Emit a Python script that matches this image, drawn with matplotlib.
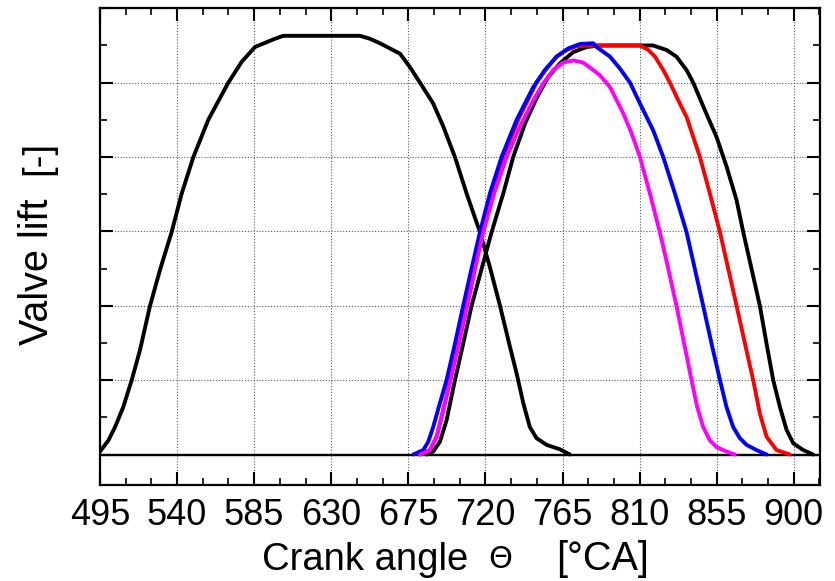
import matplotlib
matplotlib.use("Agg")
import matplotlib.pyplot as plt
from matplotlib.ticker import MultipleLocator

plt.rcParams['font.family'] = ['Liberation Sans', 'DejaVu Sans']

# Exhaust valve (black, left)
exh_theta = [495.0, 499.9, 503.8, 508.6, 513.5, 518.3, 524.2, 530.0, 536.8, 542.7, 549.5, 558.2,
             569.9, 577.7, 585.5, 597.1, 602.0, 646.8, 652.6, 658.4, 670.1, 675.9, 681.8, 689.5,
             695.4, 702.2, 709.0, 716.8, 722.6, 728.5, 734.3, 738.2, 742.1, 745.9, 749.8, 755.7,
             763.5, 769.3]
exh_lift = [0.04, 0.19, 0.37, 0.64, 1.0, 1.40, 2.0, 2.48, 2.99, 3.51, 4.0, 4.50,
            5.0, 5.28, 5.48, 5.59, 5.63, 5.63, 5.59, 5.53, 5.39, 5.21, 5.0, 4.72,
            4.41, 4.0, 3.51, 2.99, 2.52, 2.0, 1.45, 1.09, 0.69, 0.37, 0.22, 0.13,
            0.07, 0.0]

# Intake valve, baseline (black)
int_k_theta = [685.6, 689.5, 693.4, 697.3, 702.2, 707.0, 711.9, 717.8, 723.6, 730.4, 736.2, 743.1,
               749.8, 756.7, 763.5, 771.2, 779.1, 786.8, 817.9, 825.7, 831.5, 837.4, 841.3, 848.1,
               854.9, 860.8, 866.6, 870.5, 875.3, 880.2, 884.1, 888.0, 891.9, 895.8, 899.7, 905.5,
               911.3]
int_k_lift = [0.0, 0.04, 0.17, 0.46, 1.0, 1.49, 2.0, 2.50, 2.99, 3.51, 4.0, 4.45,
              4.79, 5.08, 5.26, 5.41, 5.48, 5.50, 5.50, 5.44, 5.35, 5.17, 5.0, 4.63,
              4.27, 3.87, 3.42, 2.99, 2.50, 2.0, 1.49, 1.0, 0.64, 0.33, 0.15, 0.06,
              0.0]

# Intake variant (red)
red_theta = [681.8, 687.6, 691.5, 695.4, 699.3, 704.1, 709.0, 713.3, 717.8, 723.6, 730.4, 739.1,
             749.8, 755.7, 761.5, 767.4, 773.2, 781.0, 810.2, 815.1, 819.0, 823.8, 827.7, 832.6,
             837.4, 841.3, 845.2, 851.0, 856.9, 861.7, 866.6, 871.5, 876.3, 880.2, 884.1, 889.9,
             897.7]
red_lift = [0.0, 0.06, 0.24, 0.60, 1.0, 1.49, 2.0, 2.50, 2.99, 3.51, 4.0, 4.50,
            5.0, 5.19, 5.35, 5.44, 5.49, 5.50, 5.50, 5.44, 5.35, 5.17, 5.0, 4.76,
            4.54, 4.27, 4.0, 3.51, 2.99, 2.50, 2.0, 1.49, 1.0, 0.55, 0.24, 0.06,
            0.0]

# Intake variant (blue)
blue_theta = [677.9, 683.7, 686.6, 689.5, 693.4, 697.3, 702.2, 707.0, 711.9, 716.8, 722.6, 729.4,
              738.2, 747.9, 754.7, 761.5, 768.3, 775.2, 782.9, 784.9, 792.7, 798.5, 804.4, 810.2,
              817.9, 823.8, 830.6, 837.4, 842.2, 847.1, 852.0, 856.9, 860.7, 864.6, 868.5, 872.4,
              878.2, 884.1]
blue_lift = [0.0, 0.06, 0.17, 0.37, 0.69, 1.0, 1.49, 2.0, 2.50, 2.99, 3.51, 4.0,
             4.50, 4.94, 5.17, 5.35, 5.46, 5.52, 5.53, 5.48, 5.35, 5.19, 5.0, 4.72,
             4.36, 4.0, 3.51, 2.99, 2.50, 2.0, 1.49, 1.0, 0.64, 0.37, 0.22, 0.13,
             0.06, 0.0]

# Intake variant (magenta)
mag_theta = [681.8, 687.6, 691.5, 695.4, 699.6, 704.5, 709.4, 714.0, 718.7, 725.1, 732.3, 740.1,
             747.9, 753.7, 759.6, 765.4, 771.2, 777.1, 782.9, 786.8, 792.7, 800.4, 805.3, 810.2,
             816.0, 821.8, 826.7, 831.5, 836.0, 840.3, 843.6, 847.1, 851.0, 854.9, 860.7, 865.6]
mag_lift = [0.0, 0.06, 0.24, 0.60, 1.0, 1.49, 2.0, 2.50, 2.99, 3.51, 4.0, 4.41,
            4.76, 4.99, 5.17, 5.27, 5.30, 5.27, 5.17, 5.10, 4.94, 4.59, 4.32, 4.0,
            3.51, 2.99, 2.50, 2.0, 1.49, 1.0, 0.64, 0.37, 0.19, 0.10, 0.04, 0.0]

x_ticks = [495, 540, 585, 630, 675, 720, 765, 810, 855, 900]

W, H = 835, 581
fig = plt.figure(figsize=(W / 100, H / 100), dpi=100)
ax = fig.add_axes([100 / W, 1 - 485 / H, 720 / W, (485 - 8.3) / H])

ax.set_xlim(495, 915.3)
ax.set_ylim(-0.41, 6.0)

ax.axhline(0, color='black', lw=1.7, zorder=2)

lw = 2.8
kw = dict(lw=lw, solid_joinstyle='round', solid_capstyle='round')
ax.plot(exh_theta, exh_lift, color='black', zorder=3, **kw)
ax.plot(int_k_theta, int_k_lift, color='black', zorder=3, **kw)
ax.plot(red_theta, red_lift, color='#ff0000', zorder=4, **kw)
ax.plot(blue_theta, blue_lift, color='#0000ff', zorder=5, **kw)
ax.plot(mag_theta, mag_lift, color='#ff00ff', zorder=6, **kw)

ax.set_xticks(x_ticks)
ax.set_xticklabels([str(t) for t in x_ticks])
ax.xaxis.set_minor_locator(MultipleLocator(15))
ax.yaxis.set_major_locator(MultipleLocator(1))
ax.yaxis.set_minor_locator(MultipleLocator(0.5))
ax.set_yticklabels([])

ax.tick_params(which='major', direction='in', length=9.5, width=1.5,
               top=True, right=True, labelsize=26, pad=9.5)
ax.tick_params(which='minor', direction='in', length=5, width=1.2,
               top=True, right=True)

ax.grid(True, which='major', color='0.35', linestyle=(0, (1, 1.6)), lw=0.8)

for s in ax.spines.values():
    s.set_linewidth(1.6)

# x label pieces
lab_fs = 27.5
fig.text(262 / W, 1 - 570 / H, 'Crank angle', fontsize=lab_fs, ha='left', va='baseline')
fig.text(500.7 / W, 1 - 568.5 / H, 'Θ', fontsize=22, ha='center', va='baseline',
         family=['DejaVu Sans'])
fig.text(603 / W, 1 - 570 / H, '[°CA]', fontsize=28.5, ha='center', va='baseline')

# y label pieces (rotated)
fig.text(48.5 / W, 1 - 272 / H, 'Valve lift', fontsize=28.5, rotation=90,
         rotation_mode='anchor', ha='center', va='baseline')
fig.text(48.5 / W, 1 - 158 / H, '[-]', fontsize=lab_fs, rotation=90,
         rotation_mode='anchor', ha='center', va='baseline')

fig.savefig('out.png', dpi=100)
